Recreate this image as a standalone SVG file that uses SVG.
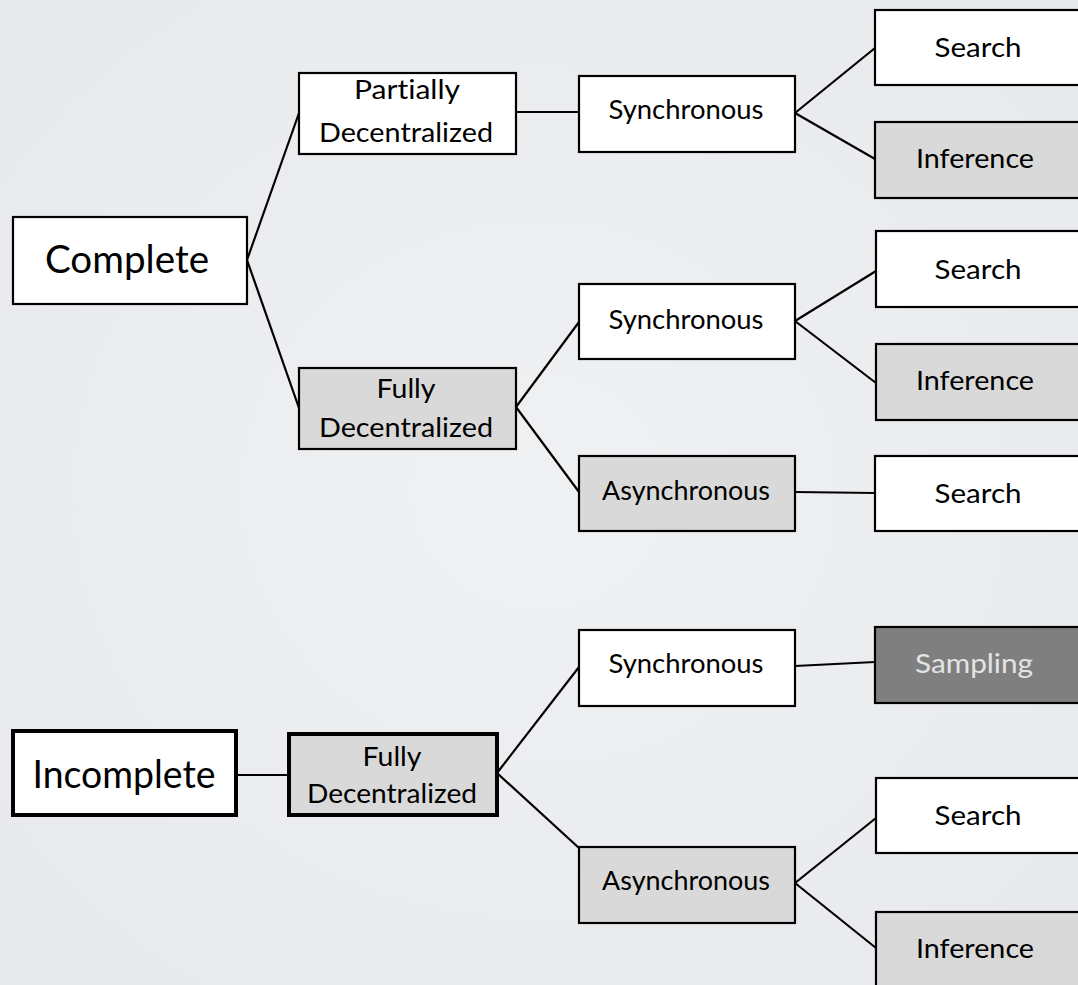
<svg xmlns="http://www.w3.org/2000/svg" width="1078" height="985" viewBox="0 0 1078 985">
  <defs>
    <radialGradient id="bg" cx="50%" cy="50%" r="75%">
      <stop offset="0" stop-color="#f0f1f3"/>
      <stop offset="1" stop-color="#e6e8eb"/>
    </radialGradient>
  </defs>
  <style>
    .box { stroke: #000; stroke-width: 2.2; }
    .thick { stroke-width: 4; }
    .white { fill: #ffffff; }
    .light { fill: #d9d9d9; }
    .dark { fill: #7f7f7f; }
    text { font-family: Lato, "Open Sans", "Liberation Sans", sans-serif; fill: #000; text-anchor: middle; font-variant-ligatures: none; }
    .big { font-size: 38px; }
    .mid { font-size: 26.5px; }
    .leaf { font-size: 27.5px; }
    .pale { fill: #e4e4e4; }
    .edge { stroke: #000; stroke-width: 2.2; fill: none; }
  </style>

  <rect x="0" y="0" width="1078" height="985" fill="url(#bg)"/>

  <!-- connectors -->
  <g id="connectors">
    <line class="edge" x1="247" y1="260" x2="299" y2="113"/>
    <line class="edge" x1="247" y1="260" x2="299" y2="408"/>
    <line class="edge" x1="516" y1="112" x2="579" y2="112"/>
    <line class="edge" x1="795" y1="113" x2="875" y2="48"/>
    <line class="edge" x1="795" y1="113" x2="875" y2="159"/>
    <line class="edge" x1="516" y1="407" x2="579" y2="322"/>
    <line class="edge" x1="516" y1="407" x2="579" y2="492"/>
    <line class="edge" x1="795" y1="321" x2="876" y2="271"/>
    <line class="edge" x1="795" y1="321" x2="876" y2="383"/>
    <line class="edge" x1="795" y1="492" x2="875" y2="493"/>
    <line class="edge" x1="236" y1="775" x2="289" y2="775"/>
    <line class="edge" x1="497" y1="773" x2="579" y2="667"/>
    <line class="edge" x1="497" y1="773" x2="579" y2="848"/>
    <line class="edge" x1="795" y1="666" x2="875" y2="662"/>
    <line class="edge" x1="795" y1="883" x2="876" y2="818"/>
    <line class="edge" x1="795" y1="883" x2="876" y2="948"/>
  </g>

  <!-- complete branch -->
  <g id="complete">
    <rect class="box white" x="13" y="217" width="234" height="87"/>
    <text class="big" x="127" y="273" textLength="164" lengthAdjust="spacingAndGlyphs">Complete</text>
  </g>
  <g id="partially-decentralized">
    <rect class="box white" x="299" y="73" width="217" height="81"/>
    <text class="mid" x="407" y="99" textLength="106" lengthAdjust="spacingAndGlyphs">Partially</text>
    <text class="mid" x="406" y="142" textLength="174" lengthAdjust="spacingAndGlyphs">Decentralized</text>
  </g>
  <g id="fully-decentralized-c">
    <rect class="box light" x="299" y="368" width="217" height="81"/>
    <text class="mid" x="406" y="398" textLength="59" lengthAdjust="spacingAndGlyphs">Fully</text>
    <text class="mid" x="406" y="437" textLength="174" lengthAdjust="spacingAndGlyphs">Decentralized</text>
  </g>
  <g id="synchronous-pd">
    <rect class="box white" x="579" y="76" width="216" height="76"/>
    <text class="mid" x="686" y="119" textLength="155" lengthAdjust="spacingAndGlyphs">Synchronous</text>
  </g>
  <g id="synchronous-fd">
    <rect class="box white" x="579" y="284" width="216" height="75"/>
    <text class="mid" x="686" y="329" textLength="155" lengthAdjust="spacingAndGlyphs">Synchronous</text>
  </g>
  <g id="asynchronous-fd">
    <rect class="box light" x="579" y="456" width="216" height="75"/>
    <text class="mid" x="686" y="500" textLength="168" lengthAdjust="spacingAndGlyphs">Asynchronous</text>
  </g>
  <g id="search-1">
    <rect class="box white" x="875" y="10" width="210" height="75"/>
    <text class="leaf" x="978" y="57" textLength="87" lengthAdjust="spacingAndGlyphs">Search</text>
  </g>
  <g id="inference-1">
    <rect class="box light" x="875" y="122" width="210" height="76"/>
    <text class="leaf" x="975" y="168" textLength="118" lengthAdjust="spacingAndGlyphs">Inference</text>
  </g>
  <g id="search-2">
    <rect class="box white" x="876" y="231" width="210" height="76"/>
    <text class="leaf" x="978" y="279" textLength="87" lengthAdjust="spacingAndGlyphs">Search</text>
  </g>
  <g id="inference-2">
    <rect class="box light" x="876" y="344" width="210" height="76"/>
    <text class="leaf" x="975" y="390" textLength="118" lengthAdjust="spacingAndGlyphs">Inference</text>
  </g>
  <g id="search-3">
    <rect class="box white" x="875" y="456" width="210" height="75"/>
    <text class="leaf" x="978" y="503" textLength="87" lengthAdjust="spacingAndGlyphs">Search</text>
  </g>

  <!-- incomplete branch -->
  <g id="incomplete">
    <rect class="box thick white" x="13" y="731" width="223" height="84"/>
    <text class="big" x="124" y="788" textLength="183" lengthAdjust="spacingAndGlyphs">Incomplete</text>
  </g>
  <g id="fully-decentralized-i">
    <rect class="box thick light" x="289" y="734" width="208" height="81"/>
    <text class="mid" x="392" y="766" textLength="59" lengthAdjust="spacingAndGlyphs">Fully</text>
    <text class="mid" x="392" y="803" textLength="170" lengthAdjust="spacingAndGlyphs">Decentralized</text>
  </g>
  <g id="synchronous-i">
    <rect class="box white" x="579" y="630" width="216" height="76"/>
    <text class="mid" x="686" y="673" textLength="155" lengthAdjust="spacingAndGlyphs">Synchronous</text>
  </g>
  <g id="asynchronous-i">
    <rect class="box light" x="579" y="847" width="216" height="76"/>
    <text class="mid" x="686" y="890" textLength="168" lengthAdjust="spacingAndGlyphs">Asynchronous</text>
  </g>
  <g id="sampling">
    <rect class="box dark" x="875" y="627" width="210" height="76"/>
    <text class="leaf pale" x="974" y="673" textLength="118" lengthAdjust="spacingAndGlyphs">Sampling</text>
  </g>
  <g id="search-4">
    <rect class="box white" x="876" y="778" width="210" height="75"/>
    <text class="leaf" x="978" y="825" textLength="87" lengthAdjust="spacingAndGlyphs">Search</text>
  </g>
  <g id="inference-3">
    <rect class="box light" x="876" y="912" width="210" height="76"/>
    <text class="leaf" x="975" y="958" textLength="118" lengthAdjust="spacingAndGlyphs">Inference</text>
  </g>
</svg>
